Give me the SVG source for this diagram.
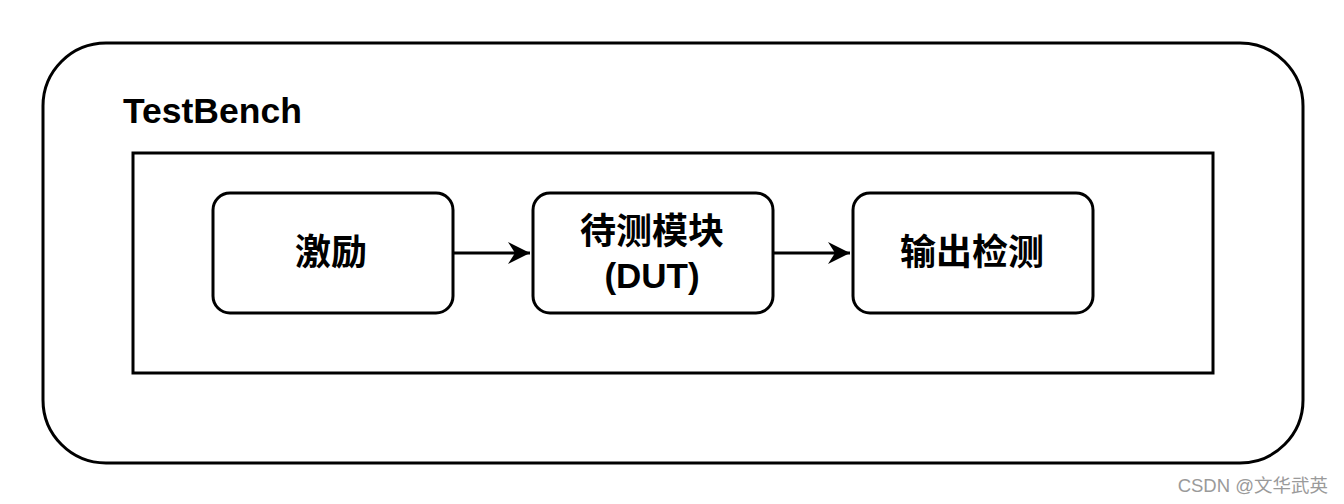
<svg xmlns="http://www.w3.org/2000/svg" width="1344" height="504" viewBox="0 0 1344 504">
<style>
.frame{fill:#fff;stroke:#000;stroke-width:3}
.box{fill:#fff;stroke:#000;stroke-width:3}
.lbl{font-family:"Liberation Sans","Noto Sans CJK SC",sans-serif;font-weight:bold;font-size:36px;fill:#000;text-anchor:middle}
.conn{stroke:#000;stroke-width:3;fill:none}
</style>
<defs>
<marker id="arr" markerUnits="userSpaceOnUse" markerWidth="26" markerHeight="26" refX="22" refY="12" orient="auto">
<path d="M0,1 L22,12 L0,23 L7,12 Z" fill="#000"/>
</marker>
</defs>
<rect width="1344" height="504" fill="#fff"/>
<g id="testbench">
<rect class="frame" x="43" y="43" width="1260" height="420" rx="63" ry="63"/>
<text x="123" y="123" style="font-family:'Liberation Sans',sans-serif;font-weight:bold;font-size:35.5px">TestBench</text>
</g>
<g id="container">
<rect class="frame" x="133" y="153" width="1080" height="220"/>
</g>
<g id="stimulus">
<rect class="box" x="213" y="193" width="240" height="120" rx="17" ry="17"/>
<text class="lbl" x="331" y="265">激励</text>
</g>
<g id="dut">
<rect class="box" x="533" y="193" width="240" height="120" rx="17" ry="17"/>
<text class="lbl" x="652" y="244">待测模块</text>
<text class="lbl" x="652" y="288" style="font-size:35px">(DUT)</text>
</g>
<g id="checker">
<rect class="box" x="853" y="193" width="240" height="120" rx="17" ry="17"/>
<text class="lbl" x="972" y="265">输出检测</text>
</g>
<g id="connectors">
<line class="conn" x1="454" y1="253" x2="530" y2="253" marker-end="url(#arr)"/>
<line class="conn" x1="774" y1="253" x2="850" y2="253" marker-end="url(#arr)"/>
</g>
<text x="1328" y="492" text-anchor="end" style="font-family:'Liberation Sans','Noto Sans CJK SC',sans-serif;font-size:18.5px;fill:#9a9a9a">CSDN @文华武英</text>
</svg>
